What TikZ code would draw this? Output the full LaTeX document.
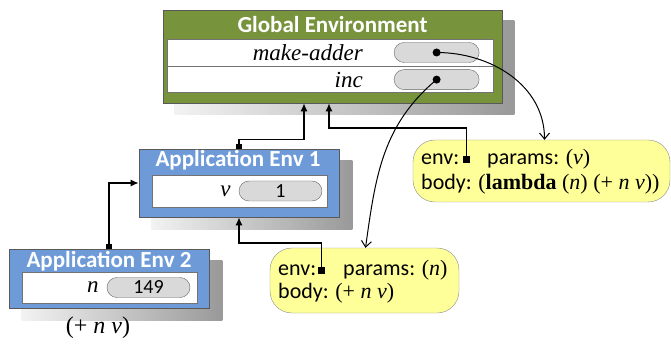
\documentclass[tikz,border=0pt]{standalone}
\usepackage{fontspec}
\setmainfont{Carlito}
\newfontfamily\tms{Liberation Serif}
\usetikzlibrary{arrows.meta, backgrounds, positioning}
\definecolor{envgreen}{RGB}{119,147,60}
\definecolor{envblue}{RGB}{110,155,216}
\definecolor{procyellow}{RGB}{255,255,153}
\definecolor{pillgray}{RGB}{217,217,217}
\newcommand{\sv}[1]{{\tms\itshape #1}}
\newcommand{\sr}[1]{{\tms #1}}

\begin{document}
\begin{tikzpicture}[x=1pt, y=1pt, font=\fontsize{22}{26}\selectfont,
	framebox/.style={draw=black!65, line width=.8pt, inner sep=0pt},
	envtitle/.style={text=white, font=\fontsize{23}{26}\selectfont\bfseries, inner sep=0pt},
	tablerow/.style={draw=black!55, fill=white, line width=.6pt, inner sep=0pt},
	pill/.style={draw=black!60, fill=pillgray, rounded corners=10pt, minimum height=20pt,
		minimum width=85pt, inner sep=0pt, font=\fontsize{20}{24}\selectfont},
	varname/.style={font=\fontsize{23}{26}\selectfont, inner sep=0pt},
	ptrdot/.style={circle, fill=black, inner sep=0pt, minimum size=8pt},
	envsq/.style={fill=black, inner sep=0pt, minimum size=7pt},
	procbox/.style={draw=black!45, fill=procyellow, rounded corners=22pt, inner sep=0pt},
	frameshadow/.style={left color=black!5, right color=black!40, draw=none},
	link/.style={line width=1.1pt, -{Latex[length=8pt,width=7pt]}},
	backlink/.style={link, {Square[length=5pt,width=6pt]}-{Latex[length=8pt,width=7pt]}},
	ptr/.style={line width=1pt, -{Straight Barb[length=6pt,width=10pt]}}]
	\useasboundingbox (0,0) rectangle (671,348);

	% global frame
	\node[framebox, fill=envgreen, minimum width=339pt, minimum height=93pt] (glob) at (332.5,291.5) {};
	\node[envtitle] (globtitle) at (332.5,323) {Global Environment};
	\node[tablerow, minimum width=326pt, minimum height=27pt] (mkrow) at (330,295.5) {};
	\node[tablerow, minimum width=326pt, minimum height=26pt, below=0pt of mkrow] (incrow) {};
	\node[pill, left=14pt of mkrow.east] (mkpill) {};
	\node[pill, left=14pt of incrow.east] (incpill) {};
	\node[ptrdot] (mkdot) at (mkpill.center) {};
	\node[ptrdot] (incdot) at (incpill.center) {};
	\node[varname, left=31pt of mkpill] (mklabel) {\sv{make-adder}};
	\node[varname, left=31pt of incpill] (inclabel) {\sv{inc}};

	% application frames
	\node[framebox, fill=envblue, minimum width=200pt, minimum height=68pt] (app1) at (239,165) {};
	\node[envtitle] (app1title) at (238,188) {Application Env 1};
	\node[tablerow, minimum width=175pt, minimum height=32pt] (app1row) at (239.5,157) {};
	\node[pill, minimum width=83pt] (vpill) at (280.5,157) {1};
	\node[varname, left=8pt of vpill] (vlabel) {\sv{v}};

	\node[framebox, fill=envblue, minimum width=200pt, minimum height=59pt] (app2) at (109,69.5) {};
	\node[envtitle] (app2title) at (109,87) {Application Env 2};
	\node[tablerow, minimum width=175pt, minimum height=31pt] (app2row) at (109.5,60.5) {};
	\node[pill, minimum width=83pt] (npill) at (148.5,60.5) {149};
	\node[varname, left=8pt of npill] (nlabel) {\sv{n}};

	\node[font=\fontsize{24}{28}\selectfont\tms] (call) at (98,20) {(+ \textit{n} \textit{v})};

	% shadows
	\begin{scope}[on background layer]
		\shade[frameshadow] ([shift={(12,-11)}]glob.south west) rectangle ([shift={(12,-11)}]glob.north east);
		\shade[frameshadow] ([shift={(13,-12)}]app1.south west) rectangle ([shift={(13,-12)}]app1.north east);
		\shade[frameshadow] ([shift={(13,-12)}]app2.south west) rectangle ([shift={(13,-12)}]app2.north east);
	\end{scope}

	% procedures
	\node[procbox, minimum width=257pt, minimum height=62pt] (mkproc) at (541.5,177) {};
	\node[anchor=base west, inner sep=0pt] (mkenvlbl) at (421,183) {env:};
	\node[envsq] (mkenv) at (466.5,188.5) {};
	\node[anchor=base west, inner sep=0pt] (mkparams) at (487,183) {params: \sr{(\textit{v})}};
	\node[anchor=base west, inner sep=0pt] (mkbody) at (421,158) {body: \sr{(\textbf{lambda} (\textit{n}) (+ \textit{n} \textit{v}))}};

	\node[procbox, minimum width=189pt, minimum height=65pt] (incproc) at (364.5,67.5) {};
	\node[anchor=base west, inner sep=0pt] (incenvlbl) at (278,73) {env:};
	\node[envsq] (incenv) at (321.5,78) {};
	\node[anchor=base west, inner sep=0pt] (incparams) at (343,73) {params: \sr{(\textit{n})}};
	\node[anchor=base west, inner sep=0pt] (incbody) at (278,50) {body: \sr{(+ \textit{n} \textit{v})}};

	% parent links
	\draw[backlink] (app2.north) |- (app1.west);
	\draw[backlink] (app1.north) -- ++(0,9) -| ([xshift=-28.5pt]glob.south);
	\draw[link] (incenv.center) -- ++(0,27) -| (app1.south);
	\draw[link] (mkenv.center) -- ++(0,31.5) -| ([xshift=-3.5pt]glob.south);
	% bindings
	\draw[ptr] (mkdot.center) to[out=0, in=90] ([xshift=3pt]mkproc.north);
	\draw[ptr] (incdot.center) to[out=-140, in=82] ([xshift=1pt]incproc.north);
\end{tikzpicture}
\end{document}
